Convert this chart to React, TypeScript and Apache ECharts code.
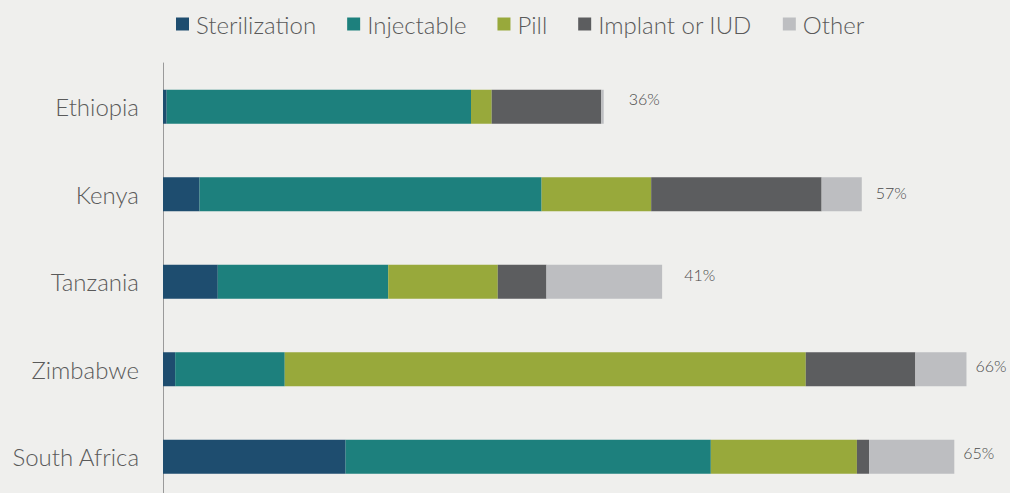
import React, { useEffect, useRef } from "react";
import * as echarts from "echarts";

const countries = ["Ethiopia", "Kenya", "Tanzania", "Zimbabwe", "South Africa"];
const seriesNames = ["Sterilization", "Injectable", "Pill", "Implant or IUD", "Other"];
const sterilization = [0.3, 3.0, 4.5, 1.0, 15.0];
const injectable = [25.0, 28.1, 14.0, 9.0, 30.0];
const pill = [1.7, 9.0, 9.0, 42.8, 12.0];
const implantIud = [9.0, 14.0, 4.0, 9.0, 1.0];
const other = [0.2, 3.3, 9.5, 4.2, 7.0];
const totals = ["36%", "57%", "41%", "66%", "65%"];

const colors = ["#1e4d6f", "#1d807d", "#98a93b", "#5c5d5f", "#bdbec1"];
const labelNudge: [number, number][] = [
  [25, -8],
  [14, -2],
  [22, -7],
  [9, -4],
  [9, -4],
];

const TEXT = "#5a5a5a";
const FONT = "Lato, 'Open Sans', sans-serif";

export default function App() {
  const ref = useRef<HTMLDivElement>(null);
  useEffect(() => {
    if (!ref.current) return;
    const chart = echarts.init(ref.current, null, { renderer: "svg" });
    const values = [sterilization, injectable, pill, implantIud, other];
    const series = seriesNames.map((name, si) => ({
      name,
      type: "bar",
      stack: "total",
      barWidth: 34,
      itemStyle: { color: colors[si] },
      data: values[si].map((v, ci) =>
        si === values.length - 1
          ? {
              value: v,
              label: {
                show: true,
                position: "right",
                distance: 0,
                offset: labelNudge[ci],
                formatter: () => totals[ci],
                color: "#4a4a4a",
                fontSize: 16,
                fontFamily: FONT,
                fontWeight: 300,
              },
            }
          : v
      ),
    }));
    chart.setOption({
      animation: false,
      backgroundColor: "#efefed",
      textStyle: { fontFamily: FONT },
      legend: {
        top: 7,
        left: 171,
        itemWidth: 13,
        itemHeight: 13,
        itemGap: 31,
        icon: "rect",
        textStyle: { color: TEXT, fontSize: 24, fontFamily: FONT, fontWeight: 300, padding: [0, 0, 0, 2] },
        data: seriesNames,
      },
      grid: { left: 163, top: 63, width: 840, height: 437.5 },
      xAxis: {
        type: "value",
        min: 0,
        max: 69,
        show: false,
      },
      yAxis: {
        type: "category",
        inverse: true,
        data: countries,
        axisLine: { show: true, lineStyle: { color: "#9a9a9a", width: 1 } },
        axisTick: { show: false },
        axisLabel: { color: TEXT, fontSize: 24, fontFamily: FONT, fontWeight: 300, margin: 24 },
      },
      series,
    });
    return () => chart.dispose();
  }, []);
  return (
    <div
      ref={ref}
      style={{ position: "absolute", left: 0, top: 0, width: 1010, height: 510 }}
    />
  );
}
